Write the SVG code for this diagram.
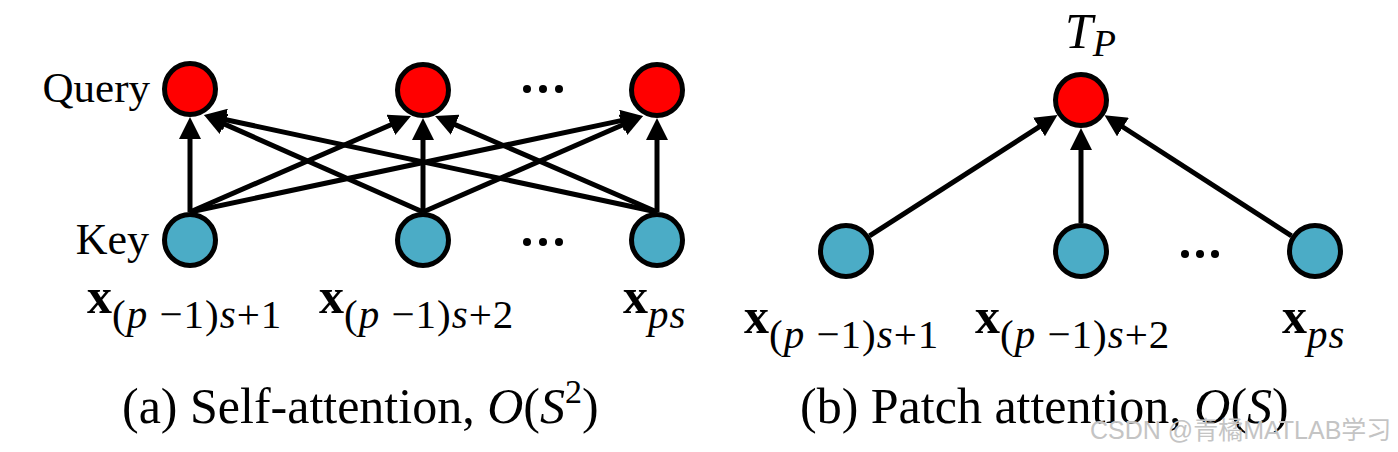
<svg xmlns="http://www.w3.org/2000/svg" width="1398" height="452" viewBox="0 0 1398 452">
<style>
.q{fill:#ff0000;stroke:#000;stroke-width:5}
.k{fill:#4bacc6;stroke:#000;stroke-width:5}
.e{stroke:#000;stroke-width:5;fill:none;marker-end:url(#ah)}
.t{font-family:"Liberation Serif","Times New Roman",serif;fill:#000}
.i{font-style:italic}
.b{font-weight:bold}
.sub{font-size:41px;letter-spacing:1px}
.dot{fill:#000}
</style>
<defs>
<marker id="ah" markerUnits="userSpaceOnUse" viewBox="0 -11 22 22" markerWidth="22" markerHeight="22" refX="2" refY="0" orient="auto">
<path d="M0,-11 L22,0 L0,11 z" fill="#000"/>
</marker>
</defs>
<rect width="1398" height="452" fill="#fff"/>
<g id="connectors">
<line class="e" x1="190" y1="212" x2="190" y2="137"/>
<line class="e" x1="423" y1="212" x2="222.3" y2="123.1"/>
<line class="e" x1="657" y1="212" x2="223.6" y2="119.2"/>
<line class="e" x1="190" y1="212" x2="392.7" y2="124"/>
<line class="e" x1="423" y1="212" x2="423" y2="138"/>
<line class="e" x1="657" y1="212" x2="453.4" y2="123.9"/>
<line class="e" x1="190" y1="212" x2="623.4" y2="120.1"/>
<line class="e" x1="423" y1="212" x2="624.7" y2="124"/>
<line class="e" x1="657" y1="212" x2="657" y2="138"/>
<line class="e" x1="869.5" y1="235.9" x2="1040.7" y2="125.9"/>
<line class="e" x1="1081" y1="223" x2="1081" y2="148"/>
<line class="e" x1="1291.5" y1="235.8" x2="1121.3" y2="126"/>
</g>
<g id="query1"><circle class="q" cx="190" cy="89" r="25.5"/></g>
<g id="query2"><circle class="q" cx="423" cy="90" r="25.5"/></g>
<g id="query3"><circle class="q" cx="657" cy="90" r="25.5"/></g>
<g id="key1"><circle class="k" cx="190" cy="240" r="25.5"/></g>
<g id="key2"><circle class="k" cx="423" cy="240" r="25.5"/></g>
<g id="key3"><circle class="k" cx="657" cy="240" r="25.5"/></g>
<g id="dots-a">
<circle class="dot" cx="527" cy="89" r="4"/><circle class="dot" cx="543" cy="89" r="4"/><circle class="dot" cx="559" cy="89" r="4"/>
<circle class="dot" cx="527" cy="242" r="4"/><circle class="dot" cx="543" cy="242" r="4"/><circle class="dot" cx="559" cy="242" r="4"/>
</g>
<g id="labels-a">
<text class="t" x="150" y="102" font-size="43" text-anchor="end">Query</text>
<text class="t" x="149" y="254" font-size="44" text-anchor="end">Key</text>
<text class="t" x="87" y="313" font-size="50"><tspan class="b">x</tspan><tspan class="sub" dy="15">(<tspan class="i">p</tspan> −1)<tspan class="i">s</tspan>+1</tspan></text>
<text class="t" x="319" y="313" font-size="50"><tspan class="b">x</tspan><tspan class="sub" dy="15">(<tspan class="i">p</tspan> −1)<tspan class="i">s</tspan>+2</tspan></text>
<text class="t" x="623" y="313" font-size="50"><tspan class="b">x</tspan><tspan class="sub i" dy="15">ps</tspan></text>
</g>
<g id="tp"><circle class="q" cx="1081" cy="100" r="25.5"/></g>
<g id="x1"><circle class="k" cx="846" cy="251" r="25.5"/></g>
<g id="x2"><circle class="k" cx="1081" cy="251" r="25.5"/></g>
<g id="x3"><circle class="k" cx="1315" cy="251" r="25.5"/></g>
<g id="dots-b">
<circle class="dot" cx="1185" cy="254" r="4"/><circle class="dot" cx="1200" cy="254" r="4"/><circle class="dot" cx="1215" cy="254" r="4"/>
</g>
<g id="labels-b">
<text class="t i" x="1065" y="48" font-size="50">T<tspan font-size="38" dy="8">P</tspan></text>
<text class="t" x="744" y="333" font-size="50"><tspan class="b">x</tspan><tspan class="sub" dy="15">(<tspan class="i">p</tspan> −1)<tspan class="i">s</tspan>+1</tspan></text>
<text class="t" x="975" y="333" font-size="50"><tspan class="b">x</tspan><tspan class="sub" dy="15">(<tspan class="i">p</tspan> −1)<tspan class="i">s</tspan>+2</tspan></text>
<text class="t" x="1282" y="333" font-size="50"><tspan class="b">x</tspan><tspan class="sub i" dy="15">ps</tspan></text>
</g>
<g id="captions">
<text class="t" x="122" y="423" font-size="50">(a) Self-attention, <tspan class="i">O</tspan>(<tspan class="i">S</tspan><tspan font-size="34" dy="-20">2</tspan><tspan dy="20">)</tspan></text>
<text class="t" x="800" y="423" font-size="50">(b) Patch attention, <tspan class="i">O</tspan>(<tspan class="i">S</tspan>)</text>
</g>
<text x="1090" y="439" font-size="25" fill="#c4c4c4" font-family="Liberation Sans,Noto Sans CJK SC,sans-serif">CSDN @青橘MATLAB学习</text>
</svg>
